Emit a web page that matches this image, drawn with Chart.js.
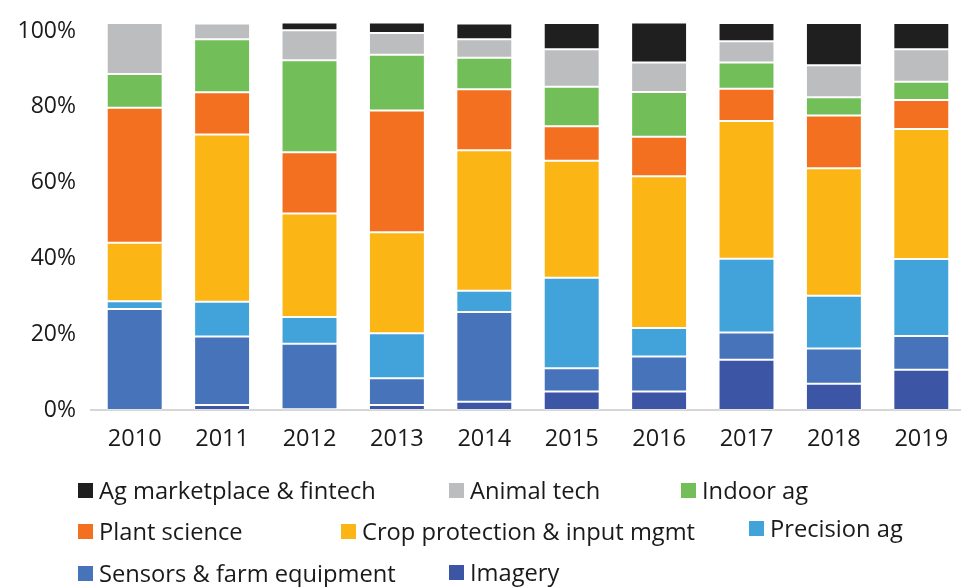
<!DOCTYPE html>
<html>
<head>
<meta charset="utf-8">
<script src="https://cdn.jsdelivr.net/npm/chart.js@4"></script>
<style>
  html, body { margin: 0; padding: 0; background: #fff; overflow: hidden; width: 961px; height: 587px; }
  #wrap { position: absolute; left: 0; top: 0; width: 966px; height: 460px; }
  #legend { position: absolute; left: 0; top: 0; width: 961px; height: 587px; pointer-events: none;
            font-family: "Open Sans", sans-serif; font-size: 23.7px; color: #1a1a1a; }
  .li { position: absolute; display: flex; align-items: center; white-space: nowrap; height: 30px; }
  .sw { width: 15px; height: 15px; margin-right: 6px; }
</style>
</head>
<body>
<div id="wrap"><canvas id="c" width="966" height="460"></canvas></div>
<div id="legend"></div>
<script>
const years = ["2010","2011","2012","2013","2014","2015","2016","2017","2018","2019"];
const yTicks = [0, 20, 40, 60, 80, 100];

// Stack order: bottom to top (percent of each year)
const imagery    = [0,    1.3,  0.2,  1.3,  2.1,  4.8,  4.8,  13.0, 6.8,  10.4];
const sensors    = [26.1, 17.7, 16.9, 6.9,  23.2, 6.0,  9.0,  7.0,  9.1,  8.7];
const precision  = [2.0,  9.0,  6.9,  11.6, 5.5,  23.4, 7.4,  19.1, 13.6, 19.9];
const cropProt   = [15.1, 43.2, 26.8, 26.1, 36.3, 30.2, 39.2, 35.6, 33.0, 33.6];
const plantSci   = [34.9, 10.9, 15.8, 31.5, 15.8, 8.9,  10.2, 8.3,  13.6, 7.5];
const indoorAg   = [8.7,  13.7, 23.8, 14.4, 8.1,  10.2, 11.6, 6.8,  4.7,  4.7];
const animalTech = [13.2, 4.1,  7.7,  5.6,  4.8,  9.7,  7.6,  5.5,  8.3,  8.4];
const agMarket   = [0,    0,    2.0,  2.7,  4.1,  6.8,  10.3, 4.7,  10.9, 6.8];

const seriesNames = ["Imagery","Sensors & farm equipment","Precision ag","Crop protection & input mgmt",
                     "Plant science","Indoor ag","Animal tech","Ag marketplace & fintech"];
const seriesData = [imagery, sensors, precision, cropProt, plantSci, indoorAg, animalTech, agMarket];
const seriesColors = ["#3c55a5","#4673b9","#42a3da","#fbb615","#f37021","#72bf5a","#bcbdbf","#1e1f1e"];

// legend layout (order shown, position of swatch)
const legendOrder = [7, 6, 5, 4, 3, 2, 1, 0];
const legendPos = [[78,475],[449,475],[681,475],[78,516],[341,516],[749,513],[78,558],[449,557]];

const datasets = seriesNames.map((n, i) => ({
  label: n,
  data: seriesData[i],
  yAxisID: "y",
  backgroundColor: seriesColors[i],
  borderColor: "rgba(255,255,255,0.3)",
  borderWidth: 1,
  borderSkipped: false,
  categoryPercentage: 0.8,
  barPercentage: 0.8
}));

const FONT = "'Open Sans', sans-serif";

new Chart(document.getElementById("c"), {
  type: "bar",
  data: { labels: years, datasets },
  options: {
    responsive: false,
    animation: false,
    events: [],
    layout: { padding: { top: 23, right: 1, left: 0, bottom: 0 } },
    plugins: { legend: { display: false }, tooltip: { enabled: false } },
    scales: {
      x: {
        stacked: true,
        grid: { display: false, drawTicks: false },
        border: { display: true, color: "#d6d6d6", width: 2 },
        ticks: { color: "#1a1a1a", font: { family: FONT, size: 23.5 }, padding: 15, maxRotation: 0 },
        afterFit: s => { s.height = 50; }
      },
      y: {
        stacked: true,
        display: false,
        min: 0, max: 100
      },
      yLabels: {
        position: "left",
        min: 0, max: 102.1,
        afterBuildTicks: s => { s.ticks = yTicks.map(v => ({ value: v })); },
        grid: { display: false, drawTicks: false },
        border: { display: false },
        ticks: { color: "#1a1a1a", font: { family: FONT, size: 23 }, padding: 15,
                 callback: v => v + "%" },
        afterFit: s => { s.width = 91; s.paddingTop = 0; s.paddingBottom = 0; }
      }
    }
  }
});

const lg = document.getElementById("legend");
legendOrder.forEach((idx, k) => {
  const d = document.createElement("div");
  d.className = "li";
  d.style.left = legendPos[k][0] + "px";
  d.style.top = legendPos[k][1] + "px";
  const sw = document.createElement("span");
  sw.className = "sw";
  sw.style.background = seriesColors[idx];
  const t = document.createElement("span");
  t.textContent = seriesNames[idx];
  d.appendChild(sw); d.appendChild(t);
  lg.appendChild(d);
});
</script>
</body>
</html>
